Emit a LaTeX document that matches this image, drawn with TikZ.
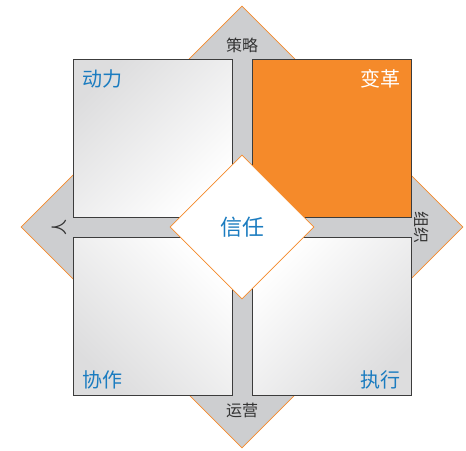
\documentclass[tikz,border=0pt]{standalone}
\usepackage{fontspec}
\setmainfont{Noto Sans CJK SC}
\usetikzlibrary{shapes.geometric}
\definecolor{borange}{HTML}{F58A2A}
\definecolor{bblue}{HTML}{1B7CC0}
\definecolor{bgray}{HTML}{CDCED0}
\definecolor{sqdark}{HTML}{DDDDDE}
\definecolor{sqedge}{HTML}{3C3C3C}
\definecolor{lbl}{HTML}{333333}
\begin{document}
\begin{tikzpicture}[x=1pt,y=-1pt,
  sq/.style={rectangle, draw=sqedge, line width=1pt, minimum width=159pt, minimum height=158pt, inner sep=0pt},
  bigdia/.style={diamond, aspect=1, fill=bgray, draw=borange, line width=0.8pt, minimum width=442pt, minimum height=442pt, inner sep=0pt},
  centdia/.style={diamond, aspect=1, fill=white, draw=borange, line width=0.8pt, minimum width=144pt, minimum height=144pt, inner sep=0pt},
  qlabel/.style={text=bblue, font=\fontsize{20}{20}\selectfont, inner sep=0pt},
  alabel/.style={text=lbl, font=\fontsize{16}{16}\selectfont, inner sep=0pt}]
\useasboundingbox (0,0) rectangle (466,450);
\node[bigdia] (big) at (242,227) {};
\node[sq, top color=sqdark, bottom color=white, shading angle=45] (tl) at (152.5,138) {};
\node[sq, fill=borange] (tr) at (331.5,138) {};
\node[sq, top color=white, bottom color=sqdark, shading angle=-45] (bl) at (152.5,316) {};
\node[sq, top color=white, bottom color=sqdark, shading angle=45] (br) at (331.5,316) {};
\node[centdia] (center) at (242,227) {};
\node[text=bblue, font=\fontsize{22}{22}\selectfont, inner sep=0pt] (trust) at (center) {信任};
\node[qlabel, anchor=west] (dongli) at (82,79) {动力};
\node[qlabel, anchor=east, text=white] (biange) at (401,79) {变革};
\node[qlabel, anchor=west] (xiezuo) at (82,380) {协作};
\node[qlabel, anchor=east] (zhixing) at (401,380) {执行};
\node[alabel] (celue) at (242,45) {策略};
\node[alabel] (yunying) at (242,410) {运营};
\node[alabel, rotate=90] (ren) at (59,227) {人};
\node[alabel, rotate=-90] (zuzhi) at (422,227) {组织};
\end{tikzpicture}
\end{document}
